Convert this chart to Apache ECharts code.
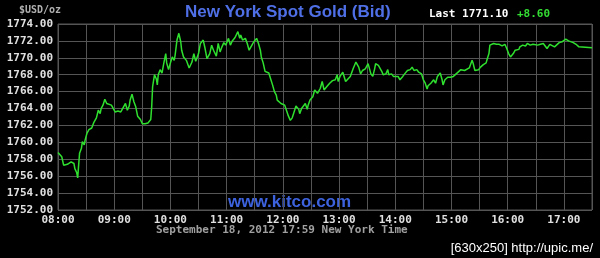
<!DOCTYPE html>
<html>
<head>
<meta charset="utf-8">
<script src="https://cdn.jsdelivr.net/npm/echarts@6/dist/echarts.min.js"></script>
<style>
html,body{margin:0;padding:0;background:#000;}
#c{width:600px;height:258px;}
</style>
</head>
<body>
<div id="c"></div>
<script>
// minutes after 08:00 New York time
var minutes = [0,2,4,6,8,10,11,14,17,18,20,21,23,25,26,28,29,31,33,36,38,41,43,45,46,48,50,52,54,57,59,61,64,67,68,70,72,74,76,77,79,81,83,85,88,90,93,96,99,100,101,103,105,106,107,109,111,113,115,116,118,120,122,124,125,127,129,131,132,134,137,140,141,143,145,147,150,152,155,157,159,162,164,166,169,171,173,175,177,179,182,184,186,189,192,194,195,197,200,202,204,207,209,212,214,216,217,219,221,223,225,227,229,231,233,234,236,238,240,242,244,246,248,250,252,254,257,258,260,262,264,266,267,269,272,274,277,280,282,284,287,290,293,296,298,299,301,304,306,307,309,312,313,315,318,320,321,323,325,327,328,331,332,334,336,338,339,342,344,346,347,350,352,353,356,358,360,363,365,368,370,373,376,378,380,383,385,388,390,392,394,395,398,401,403,405,408,410,411,413,416,419,422,425,427,430,434,436,439,442,443,445,447,449,451,454,457,458,460,461,462,465,468,469,471,474,475,477,479,481,483,484,486,488,490,492,493,496,499,501,504,507,509,512,515,518,520,522,525,527,530,532,535,538,540,542,545,547,550,553,556,557,570];
var prices = [1758.8,1758.7,1758.3,1757.3,1757.2,1757.4,1757.2,1757.7,1757.5,1756.9,1756.4,1755.8,1758.7,1759.3,1760.1,1759.7,1760.3,1761.1,1761.5,1761.7,1762.3,1762.9,1763.8,1763.4,1764.0,1764.4,1765.1,1764.6,1764.4,1764.4,1764.2,1763.6,1763.7,1763.6,1763.8,1764.2,1764.6,1763.8,1764.3,1765.0,1765.7,1764.8,1764.2,1763.1,1762.7,1762.2,1762.2,1762.3,1762.7,1764.2,1766.6,1768.0,1767.5,1766.8,1768.0,1768.6,1768.2,1769.4,1770.5,1769.4,1768.6,1769.4,1770.1,1769.7,1770.3,1772.1,1772.9,1771.9,1770.9,1770.1,1769.7,1768.8,1769.0,1769.5,1770.5,1769.6,1770.5,1771.7,1772.1,1771.1,1769.9,1770.5,1771.5,1770.9,1770.2,1771.7,1770.7,1771.3,1771.8,1771.5,1772.3,1771.5,1772.0,1772.4,1773.1,1772.3,1772.7,1772.1,1772.3,1771.7,1770.9,1771.5,1771.9,1772.3,1771.7,1770.9,1770.1,1769.4,1768.4,1768.6,1768.2,1768.0,1766.8,1766.0,1765.6,1765.0,1765.2,1764.6,1764.8,1764.4,1764.2,1763.1,1762.6,1762.9,1763.6,1764.3,1763.9,1763.4,1764.0,1764.3,1764.6,1763.9,1764.4,1765.0,1765.4,1766.2,1765.8,1766.4,1767.2,1766.2,1766.6,1767.0,1767.3,1767.4,1768.0,1767.2,1767.8,1768.3,1768.1,1767.2,1767.4,1767.8,1767.8,1768.7,1769.5,1769.3,1768.9,1768.1,1768.5,1768.3,1768.7,1769.3,1768.9,1768.1,1767.8,1768.7,1769.3,1769.1,1768.9,1768.3,1768.0,1768.1,1768.6,1768.0,1768.1,1767.8,1767.7,1767.8,1767.4,1767.8,1768.1,1768.5,1768.6,1768.9,1768.5,1768.6,1768.3,1768.1,1767.4,1767.0,1766.3,1766.7,1767.0,1767.4,1767.0,1767.8,1768.2,1767.4,1766.8,1767.4,1767.7,1767.7,1767.8,1768.1,1768.3,1768.6,1768.5,1768.6,1768.8,1769.7,1769.4,1768.5,1768.4,1768.6,1768.9,1769.2,1769.4,1769.8,1770.5,1771.5,1771.7,1771.7,1771.6,1771.4,1771.6,1771.4,1771.5,1771.6,1771.1,1770.5,1770.1,1770.3,1770.5,1770.9,1771.1,1771.0,1771.3,1771.5,1771.4,1771.7,1771.5,1771.6,1771.4,1771.5,1771.6,1771.7,1771.6,1771.1,1771.6,1771.5,1771.3,1771.5,1771.8,1771.9,1772.1,1772.2,1772.0,1771.9,1771.8,1771.6,1771.3,1771.2,1771.2];
var hourLabels = ['08:00','09:00','10:00','11:00','12:00','13:00','14:00','15:00','16:00','17:00'];
var yMin = 1752, yMax = 1774, yStep = 2;
var titleText = 'New York Spot Gold (Bid)';
var unitText = '$USD/oz';
var lastText = 'Last 1771.10';
var changeText = '+8.60';
var siteText = 'www.kitco.com';
var footerText = 'September 18, 2012 17:59 New York Time';
var stampText = '[630x250] http://upic.me/';

var mono = '"DejaVu Sans Mono", monospace';
var sans = '"Liberation Sans", Arial, sans-serif';
var data = minutes.map(function (m, i) { return [m, prices[i]]; });

var chart = echarts.init(document.getElementById('c'), null, {renderer: 'canvas'});
chart.setOption({
  backgroundColor: '#000',
  animation: false,
  grid: {left: 58, top: 24, right: 8, bottom: 48, show: true, borderColor: '#555', borderWidth: 1},
  xAxis: {
    type: 'value', min: 0, max: 570, interval: 30,
    axisLine: {show: false}, axisTick: {show: false},
    splitLine: {show: true, lineStyle: {color: '#555', width: 1}},
    axisLabel: {
      color: '#e0e0e0', fontFamily: mono, fontWeight: 'bold', fontSize: 11, margin: 5,
      formatter: function (v) { return v % 60 === 0 ? hourLabels[v / 60] : ''; }
    }
  },
  yAxis: {
    type: 'value', min: yMin, max: yMax, interval: yStep,
    axisLine: {show: false}, axisTick: {show: false},
    splitLine: {show: true, lineStyle: {color: '#555', width: 1}},
    axisLabel: {
      color: '#e0e0e0', fontFamily: mono, fontWeight: 'bold', fontSize: 11, margin: 5,
      formatter: function (v) { return v.toFixed(2); }
    }
  },
  series: [{
    type: 'line', data: data, showSymbol: false, symbol: 'none',
    lineStyle: {color: '#2fe02f', width: 1.5}
  }],
  graphic: [
    {type: 'text', left: 185, top: 4, style: {text: titleText, fill: '#4f6fe6', font: 'bold 17px ' + sans}},
    {type: 'text', left: 19, top: 5, style: {text: unitText, fill: '#b0b0b0', font: 'bold 10px ' + mono}},
    {type: 'text', left: 429, top: 9, style: {text: lastText, fill: '#ffffff', font: 'bold 11px ' + mono}},
    {type: 'text', left: 517, top: 9, style: {text: changeText, fill: '#33dd33', font: 'bold 11px ' + mono}},
    {type: 'text', left: 228, top: 194, style: {text: siteText, fill: '#3d62de', font: 'bold 17px ' + sans}},
    {type: 'text', left: 156, top: 225, style: {text: footerText, fill: '#a0a0a0', font: 'bold 11px ' + mono}},
    {type: 'text', right: 7, top: 242, style: {text: stampText, fill: '#ffffff', font: '13px ' + sans}}
  ]
});
</script>
</body>
</html>
